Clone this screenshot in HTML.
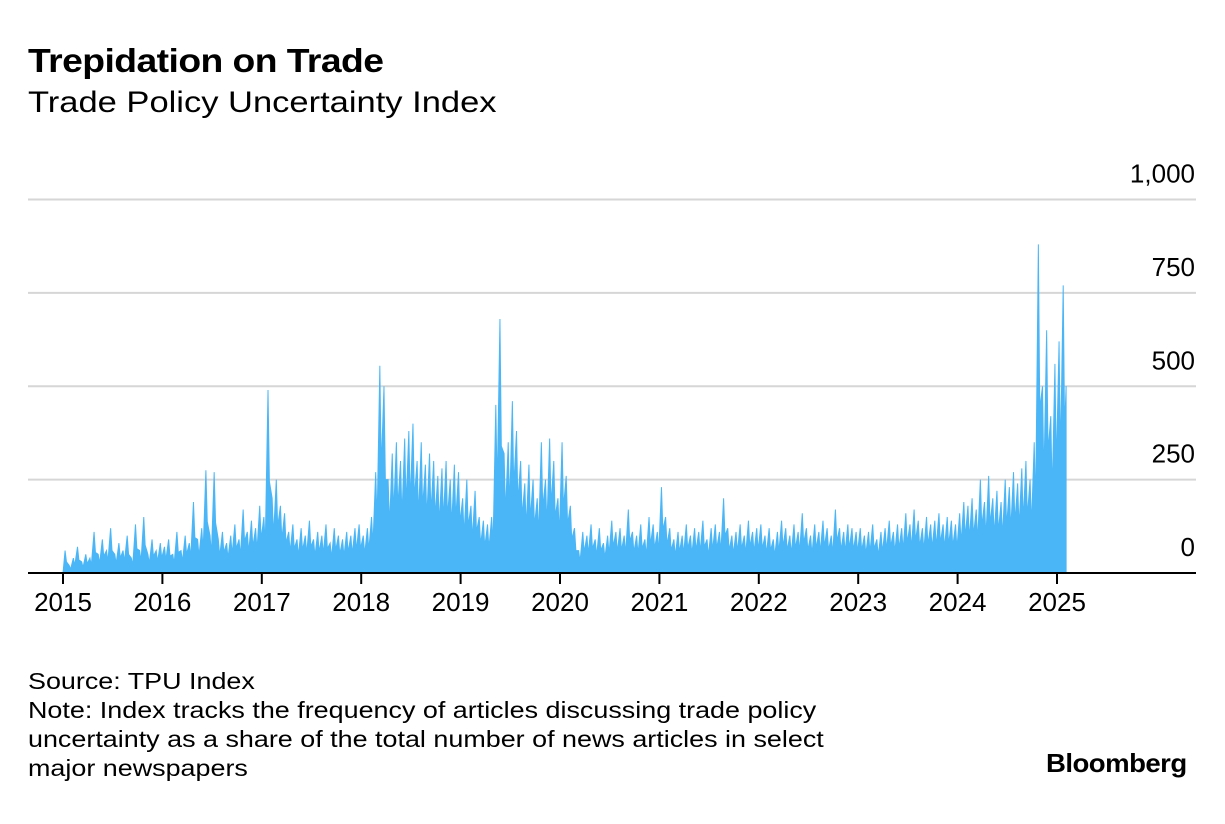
<!DOCTYPE html>
<html><head><meta charset="utf-8"><style>
body{margin:0;background:#fff;font-family:"Liberation Sans",sans-serif;color:#000;}
#wrap{position:relative;width:1225px;height:824px;overflow:hidden;}
.t{position:absolute;white-space:nowrap;transform-origin:0 0;}
</style></head><body>
<div id="wrap">
<div class="t" style="left:28px;top:42px;font-size:33px;font-weight:bold;letter-spacing:-0.5px;transform:scaleX(1.13)">Trepidation on Trade</div>
<div class="t" style="left:28px;top:86px;font-size:30px;transform:scaleX(1.15)">Trade Policy Uncertainty Index</div>
<svg id="chart" width="1225" height="824" style="position:absolute;left:0;top:0"></svg>
<div class="t" style="left:28px;top:667px;font-size:23px;line-height:29px;transform:scaleX(1.17)">Source: TPU Index<br>Note: Index tracks the frequency of articles discussing trade policy<br>uncertainty as a share of the total number of news articles in select<br>major newspapers</div>
<div class="t" style="left:1046px;top:748px;font-size:26px;font-weight:bold;letter-spacing:-0.5px;transform:scaleX(1.06)">Bloomberg</div>
</div>
<script>
const yTicks=[0,250,500,750,1000];
const yTickLabels=["0","250","500","750","1,000"];
const xYears=[2015,2016,2017,2018,2019,2020,2021,2022,2023,2024,2025];
// half-monthly values starting Jan 2015
const values=[
60,20,40,70,30,50,40,110,50,90,60,120,50,80,60,100,40,130,60,150,50,90,60,80,
70,90,50,110,60,100,80,190,90,120,275,100,270,90,110,80,100,130,90,170,110,140,120,180,
150,490,200,250,180,160,110,130,90,120,100,140,90,110,100,130,80,120,100,90,110,100,120,130,
100,120,150,270,555,500,250,320,350,300,360,380,400,300,350,290,320,300,260,280,300,250,290,270,
200,250,180,220,150,140,130,150,450,680,320,350,460,380,300,240,290,250,200,350,250,360,300,200,
350,260,180,120,60,110,100,130,90,120,80,100,140,110,120,100,170,110,100,130,90,150,130,110,
230,150,120,90,110,100,130,100,120,110,140,90,120,130,110,200,120,100,110,130,100,140,110,120,
130,100,120,90,110,140,120,100,130,110,160,120,100,130,110,140,120,100,170,120,110,130,120,110,
120,100,110,130,90,110,120,140,110,130,120,160,130,170,140,120,150,130,140,160,130,150,140,130,
160,190,180,200,170,250,190,260,200,220,190,250,230,270,240,280,300,250,350,880,500,650,420,560,
620,770];
const svg=document.getElementById('chart');const NS='http://www.w3.org/2000/svg';
const x=t=>63+(t-2015)*99.4;
const y=v=>573-v*0.3735;
function el(tag,a){const e=document.createElementNS(NS,tag);for(const k in a)e.setAttribute(k,a[k]);svg.appendChild(e);return e;}
yTicks.forEach((v,i)=>{
 if(v>0){const g=el('line',{x1:28,x2:1196,y1:y(v),y2:y(v),stroke:'#d6d6d6','stroke-width':2});
 
 }
 const t=el('text',{x:1195,y:y(v)-17,'text-anchor':'end','font-size':26,'font-family':'Liberation Sans, sans-serif'});
 t.textContent=yTickLabels[i];
 
 
});
let pts=[[x(2015),y(0)]];
values.forEach((v,i)=>{const t=2015+(i+0.5)/24;pts.push([x(t),y(v)]);pts.push([x(t+1/72),y(v*0.5)]);});
const tEnd=2015+(values.length+0.2)/24;
pts.push([x(tEnd),y(values[values.length-1]*0.65)]);pts.push([x(tEnd),y(0)]);
const area=el('polygon',{points:pts.map(p=>p.join(',')).join(' '),fill:'#4ab6f7',stroke:'#4ab6f7','stroke-width':1});


const ax=el('line',{x1:28,x2:1196,y1:573,y2:573,stroke:'#000','stroke-width':2});


xYears.forEach(yr=>{
 const tk=el('line',{x1:x(yr),x2:x(yr),y1:573,y2:584,stroke:'#000','stroke-width':2});
 
 
 const t=el('text',{x:x(yr),y:611,'text-anchor':'middle','font-size':26,'font-family':'Liberation Sans, sans-serif'});
 t.textContent=yr;
 
 
});
</script>
</body></html>
